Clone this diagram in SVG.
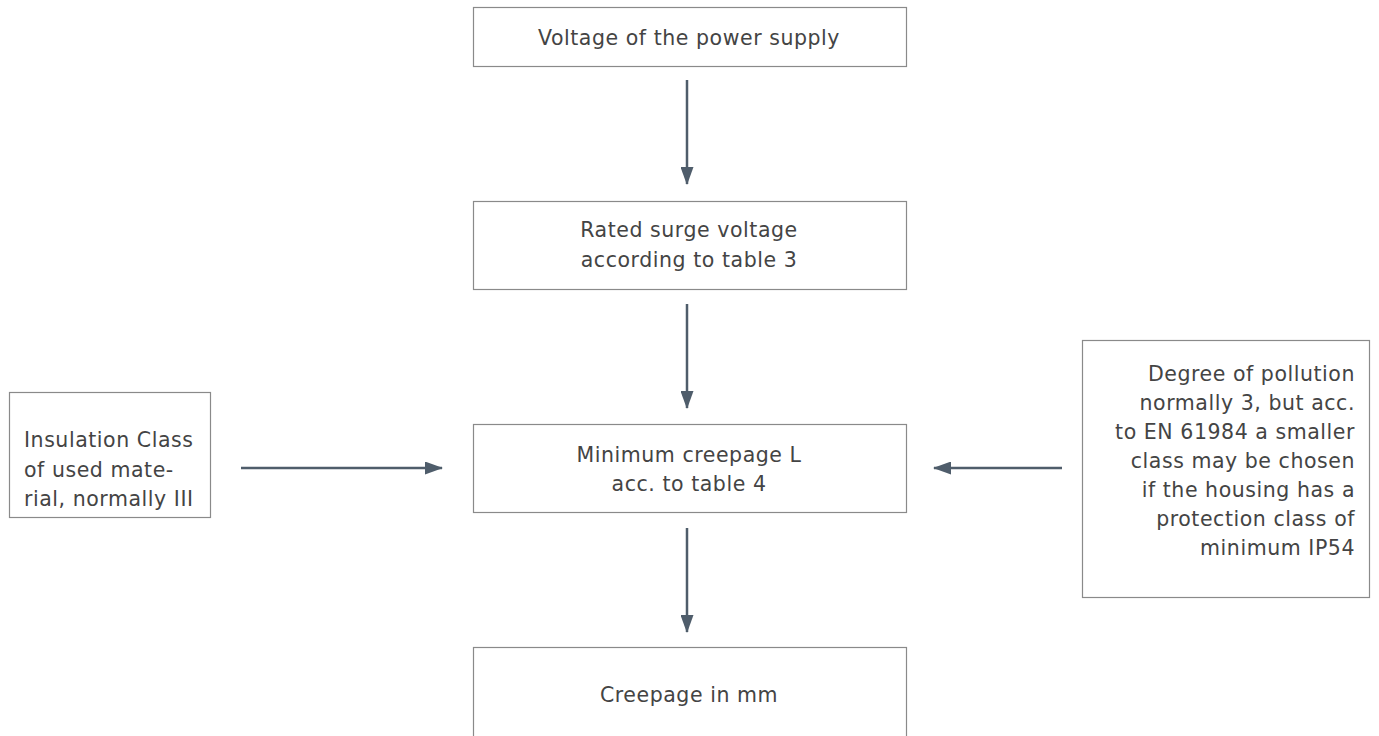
<svg xmlns="http://www.w3.org/2000/svg" width="1379" height="736" viewBox="0 0 1379 736">
<style>
.box{fill:#fff;stroke:#8a8a8a;stroke-width:1.2}
.t{font-family:"DejaVu Sans","Liberation Sans",sans-serif;font-size:20.5px;fill:#444;letter-spacing:0.55px}
.c{text-anchor:middle}
.r{text-anchor:end}
.ln{stroke:#4f5d6b;stroke-width:2.5;fill:none}
</style>
<defs>
<marker id="ah" markerWidth="18" markerHeight="13" refX="17" refY="6.5" orient="auto" markerUnits="userSpaceOnUse">
<path d="M0,0 L18,6.5 L0,13 Z" fill="#4f5d6b"/>
</marker>
</defs>
<rect width="1379" height="736" fill="#fff"/>
<g id="n1"><rect class="box" x="473.5" y="7.5" width="433" height="59"/><text class="t c" x="689" y="45">Voltage of the power supply</text></g>
<g id="n2"><rect class="box" x="473.5" y="201.5" width="433" height="88"/><text class="t c" x="689" y="237">Rated surge voltage</text><text class="t c" x="689" y="267">according to table 3</text></g>
<g id="n3"><rect class="box" x="473.5" y="424.5" width="433" height="88"/><text class="t c" x="689" y="462">Minimum creepage L</text><text class="t c" x="689" y="491">acc. to table 4</text></g>
<g id="n4"><rect class="box" x="473.5" y="647.5" width="433" height="96"/><text class="t c" x="689" y="702">Creepage in mm</text></g>
<g id="n5"><rect class="box" x="9.5" y="392.5" width="201" height="125"/><text class="t" x="24" y="447">Insulation Class</text><text class="t" x="24" y="477">of used mate-</text><text class="t" x="24" y="506">rial, normally III</text></g>
<g id="n6"><rect class="box" x="1082.5" y="340.5" width="287" height="257"/>
<text class="t r" x="1355" y="381">Degree of pollution</text>
<text class="t r" x="1355" y="410">normally 3, but acc.</text>
<text class="t r" x="1355" y="439">to EN 61984 a smaller</text>
<text class="t r" x="1355" y="468">class may be chosen</text>
<text class="t r" x="1355" y="497">if the housing has a</text>
<text class="t r" x="1355" y="526">protection class of</text>
<text class="t r" x="1355" y="555">minimum IP54</text></g>
<g id="edges">
<line class="ln" x1="687" y1="80" x2="687" y2="184" marker-end="url(#ah)"/>
<line class="ln" x1="687" y1="304" x2="687" y2="408" marker-end="url(#ah)"/>
<line class="ln" x1="687" y1="528" x2="687" y2="632" marker-end="url(#ah)"/>
<line class="ln" x1="241" y1="468" x2="442" y2="468" marker-end="url(#ah)"/>
<line class="ln" x1="1062" y1="468" x2="934" y2="468" marker-end="url(#ah)"/>
</g>
</svg>
